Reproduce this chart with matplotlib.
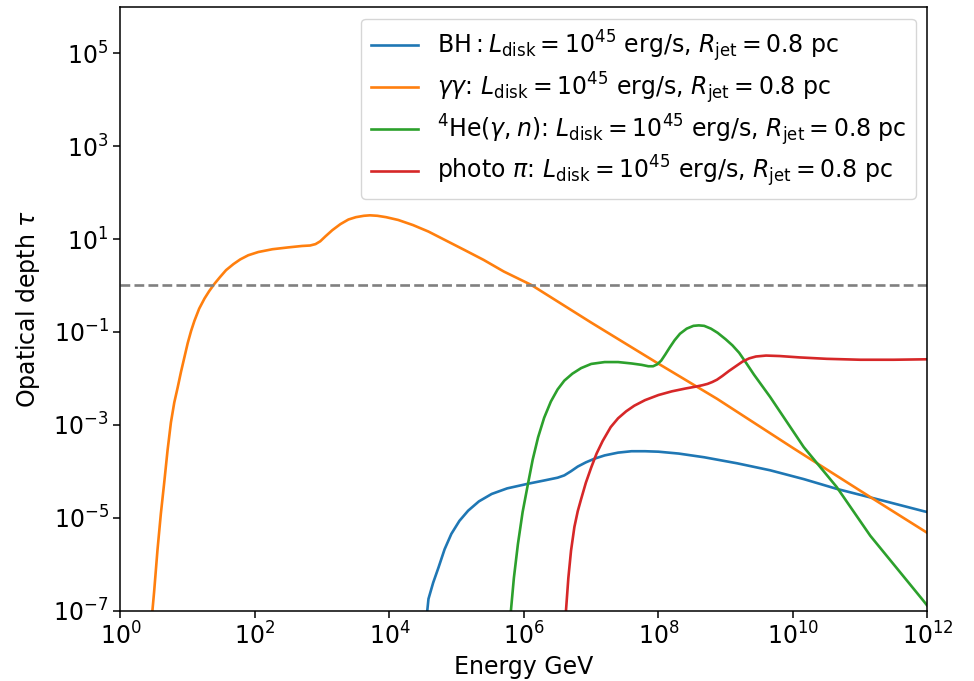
import numpy as np
import matplotlib
matplotlib.use("Agg")
import matplotlib.pyplot as plt

# log10(Energy / GeV) and log10(tau)
gg_logE = [0.45, 0.50, 0.55, 0.60, 0.65, 0.70, 0.75, 0.80, 0.85, 0.90, 0.95, 1.00, 1.05, 1.10, 1.17,
           1.25, 1.32, 1.40, 1.48, 1.57, 1.68, 1.78, 1.90, 2.05, 2.26, 2.50, 2.70, 2.82, 2.90, 2.97,
           3.05, 3.15, 3.27, 3.39, 3.50, 3.62, 3.71, 3.82, 3.95, 4.13, 4.35, 4.58, 4.85, 5.12, 5.40,
           5.70, 6.11, 7.0, 7.96, 8.87, 10.0, 11.0, 12.0]
gg_logT = [-7.4, -6.6, -5.7, -4.92, -4.25, -3.55, -2.95, -2.52, -2.20, -1.86, -1.55, -1.24, -0.98, -0.76, -0.50,
           -0.28, -0.12, 0.04, 0.18, 0.33, 0.46, 0.56, 0.65, 0.72, 0.78, 0.82, 0.85, 0.86, 0.89, 0.95,
           1.06, 1.19, 1.32, 1.42, 1.47, 1.50, 1.51, 1.50, 1.47, 1.41, 1.30, 1.16, 0.96, 0.76, 0.55,
           0.30, 0.01, -0.80, -1.65, -2.44, -3.50, -4.42, -5.33]

bh_logE = [4.52, 4.58, 4.65, 4.73, 4.82, 4.92, 5.04, 5.17, 5.33, 5.52, 5.75, 6.06, 6.30, 6.50, 6.60,
           6.70, 6.80, 6.92, 7.05, 7.20, 7.40, 7.60, 7.80, 8.0, 8.3, 8.68, 9.17, 9.66, 10.16, 10.65,
           11.3, 11.94, 12.0]
bh_logT = [-7.6, -6.75, -6.4, -6.07, -5.68, -5.35, -5.07, -4.85, -4.65, -4.49, -4.37, -4.27, -4.20, -4.14, -4.09,
           -4.00, -3.90, -3.81, -3.73, -3.66, -3.60, -3.57, -3.57, -3.58, -3.62, -3.70, -3.83, -3.98, -4.17, -4.38,
           -4.62, -4.86, -4.88]

he_logE = [5.77, 5.80, 5.85, 5.91, 5.98, 6.06, 6.13, 6.21, 6.30, 6.40, 6.50, 6.60, 6.72, 6.85, 7.00,
           7.20, 7.40, 7.60, 7.75, 7.85, 7.92, 7.98, 8.04, 8.10, 8.17, 8.24, 8.32, 8.42, 8.52, 8.60,
           8.68, 8.78, 8.88, 9.00, 9.10, 9.20, 9.30, 9.42, 9.66, 10.16, 10.65, 11.15, 11.94, 12.0]
he_logT = [-8.0, -7.1, -6.3, -5.57, -4.88, -4.27, -3.75, -3.27, -2.85, -2.50, -2.24, -2.05, -1.90, -1.78, -1.69,
           -1.65, -1.65, -1.68, -1.71, -1.74, -1.74, -1.70, -1.62, -1.49, -1.33, -1.18, -1.04, -0.93, -0.87, -0.86,
           -0.87, -0.93, -1.02, -1.16, -1.29, -1.45, -1.66, -1.92, -2.40, -3.48, -4.34, -5.39, -6.79, -6.9]

pi_logE = [6.59, 6.62, 6.66, 6.70, 6.75, 6.80, 6.85, 6.92, 7.00, 7.08, 7.17, 7.29, 7.40, 7.52, 7.64,
           7.80, 8.00, 8.20, 8.40, 8.55, 8.65, 8.73, 8.80, 8.87, 8.95, 9.05, 9.15, 9.25, 9.35, 9.45,
           9.60, 9.80, 10.1, 10.5, 11.0, 11.5, 12.0]
pi_logT = [-8.0, -7.1, -6.3, -5.71, -5.2, -4.86, -4.60, -4.25, -3.92, -3.62, -3.35, -3.05, -2.86, -2.71, -2.59,
           -2.47, -2.36, -2.28, -2.22, -2.18, -2.15, -2.12, -2.08, -2.03, -1.95, -1.84, -1.74, -1.64, -1.57, -1.53,
           -1.51, -1.52, -1.55, -1.58, -1.60, -1.60, -1.59]

labels = [
    r"BH$:L_{\rm disk}=10^{45}$ erg/s, $R_{\rm jet}=0.8$ pc",
    r"$\gamma\gamma$: $L_{\rm disk}=10^{45}$ erg/s, $R_{\rm jet}=0.8$ pc",
    r"$^4$He$(\gamma,n)$: $L_{\rm disk}=10^{45}$ erg/s, $R_{\rm jet}=0.8$ pc",
    r"photo $\pi$: $L_{\rm disk}=10^{45}$ erg/s, $R_{\rm jet}=0.8$ pc",
]

fs = 17
fig = plt.figure(figsize=(9.74, 6.81), dpi=100)
ax = fig.add_axes([0.1237, 0.1035, 0.8285, 0.8865])

series = [(bh_logE, bh_logT), (gg_logE, gg_logT), (he_logE, he_logT), (pi_logE, pi_logT)]
colors = ["#1f77b4", "#ff7f0e", "#2ca02c", "#d62728"]
for (lx, ly), c, lab in zip(series, colors, labels):
    ax.plot(10 ** np.array(lx), 10 ** np.array(ly), color=c, lw=1.9, label=lab)

ax.axhline(1, color="gray", ls="--", lw=1.9)
ax.set_xscale("log")
ax.set_yscale("log")
ax.set_xlim(1, 1e12)
ax.set_ylim(1e-7, 1e6)
ax.set_xticks([10.0 ** k for k in range(0, 13, 2)])
ax.set_yticks([10.0 ** k for k in range(-7, 6, 2)])
ax.minorticks_off()
ax.tick_params(labelsize=fs, width=1.1, length=5)
for s in ax.spines.values():
    s.set_linewidth(1.1)
ax.set_xlabel("Energy GeV", fontsize=fs)
ax.set_ylabel(r"Opatical depth $\tau$", fontsize=fs, labelpad=8)
ax.legend(loc="upper right", fontsize=fs, labelspacing=0.25)

fig.savefig("out.png", dpi=100)
